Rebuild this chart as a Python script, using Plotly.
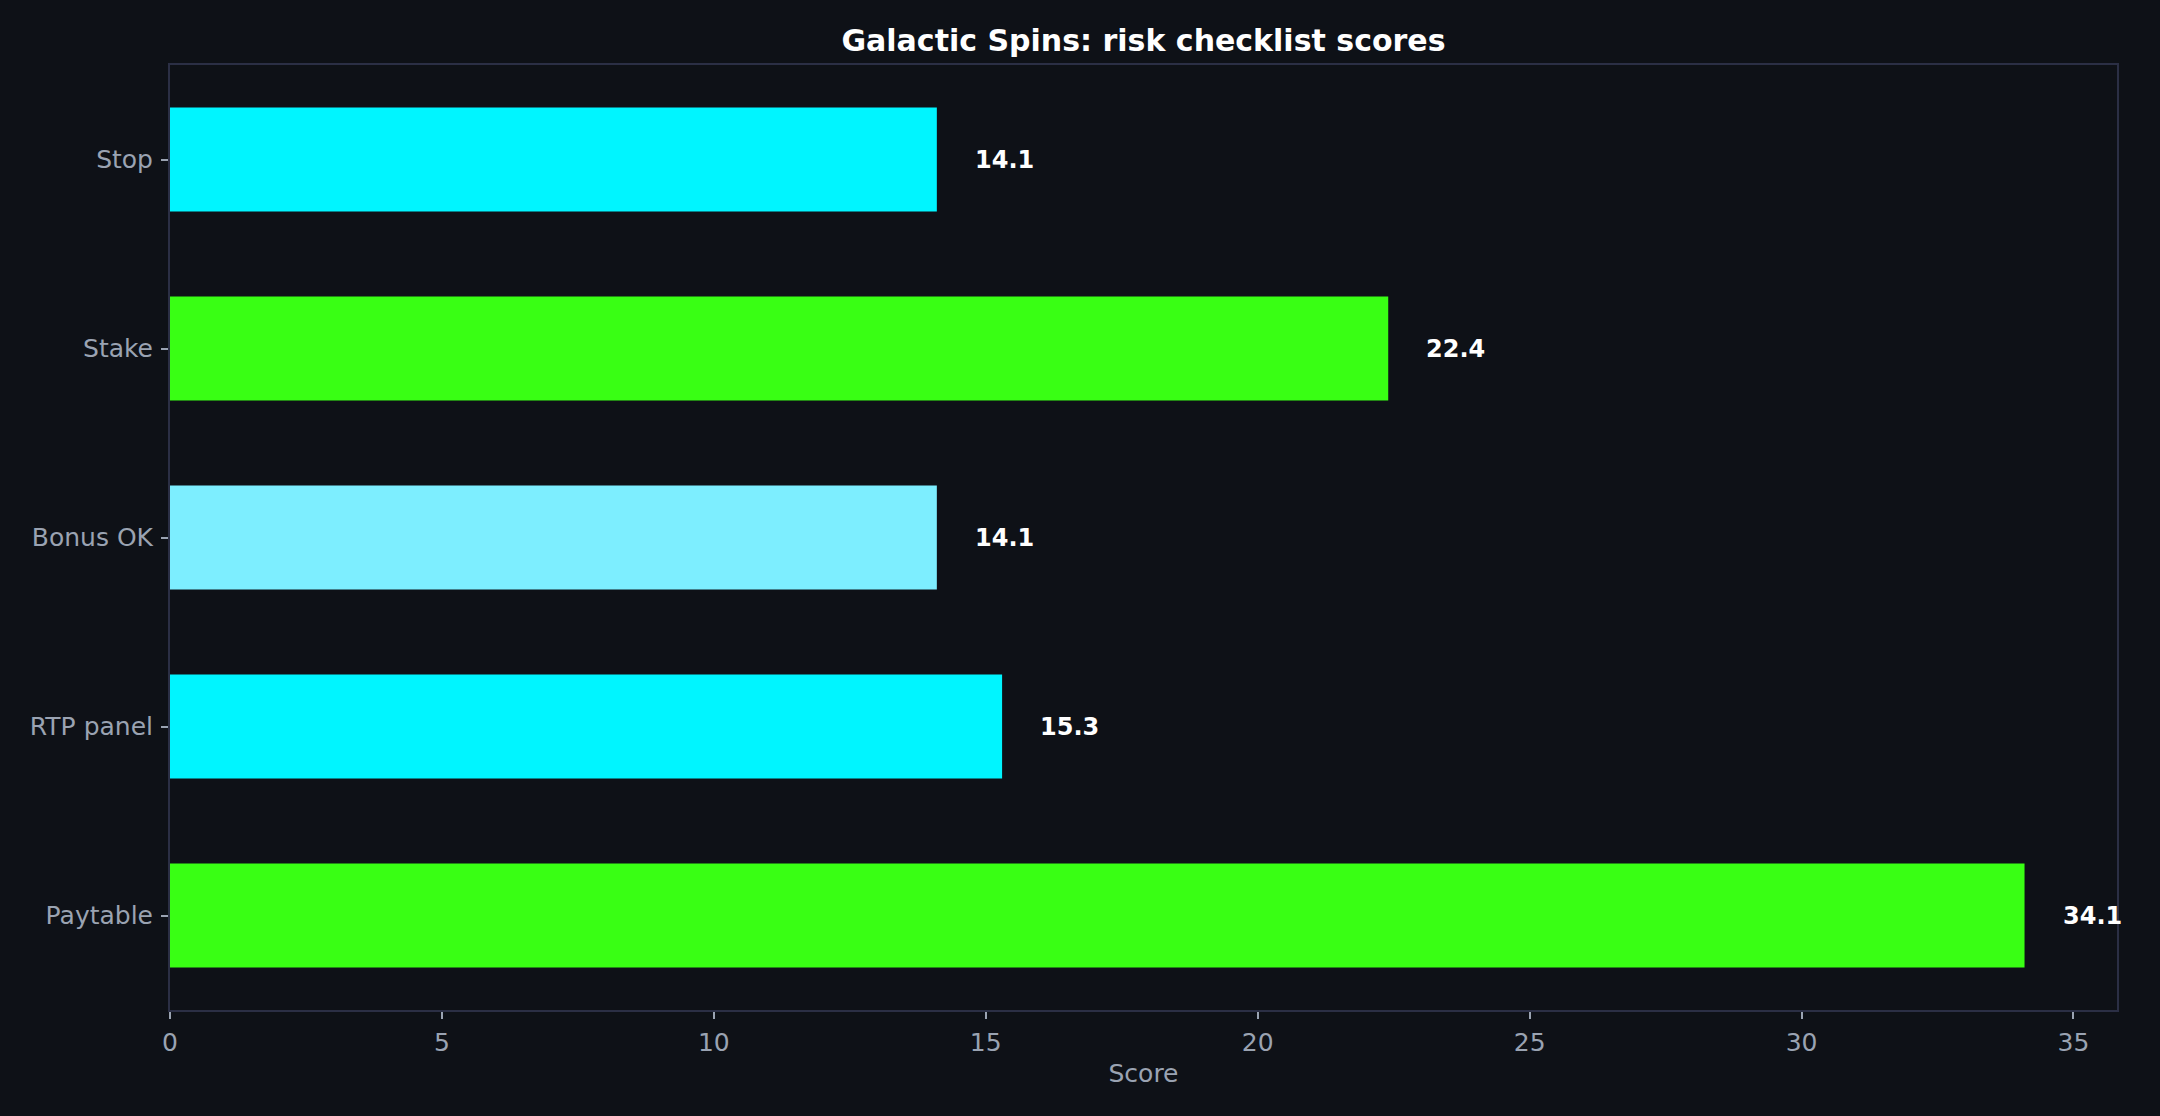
import plotly.graph_objects as go

categories = ["Paytable", "RTP panel", "Bonus OK", "Stake", "Stop"]
scores = [34.1, 15.3, 14.1, 22.4, 14.1]
bar_colors = ["#39ff14", "#00f5ff", "#7deeff", "#39ff14", "#00f5ff"]

bg = "#0e1117"
tick_grey = "#9aa3b2"
frame = "#2b2f45"

fig = go.Figure()
fig.add_trace(go.Bar(
    x=scores,
    y=categories,
    orientation='h',
    width=0.55,
    marker=dict(color=bar_colors, line=dict(width=0)),
    hoverinfo='x+y',
))

for cat, val in zip(categories, scores):
    fig.add_annotation(
        x=val, y=cat, text=f"<b>{val:.1f}</b>",
        xanchor='left', yanchor='middle', xshift=36, showarrow=False,
        font=dict(family="DejaVu Sans", size=24, color="#ffffff"),
    )

fig.update_layout(
    width=2160, height=1116,
    paper_bgcolor=bg, plot_bgcolor=bg,
    margin=dict(l=170, r=43, t=65, b=106),
    showlegend=False,
    title=dict(
        text="<b>Galactic Spins: risk checklist scores</b>",
        x=0.5, xanchor='center', xref='paper', y=1 - 40 / 1116, yref='container', yanchor='middle',
        font=dict(family="DejaVu Sans", size=30, color="#ffffff"),
    ),
    font=dict(family="DejaVu Sans", color=tick_grey),
)

fig.update_xaxes(
    range=[0, 35.8], dtick=5, tick0=0,
    showgrid=False, zeroline=False,
    showline=True, linecolor=frame, linewidth=2, mirror=True,
    ticks='outside', ticklen=7, tickcolor=tick_grey, tickwidth=1.5,
    ticklabelstandoff=2,
    tickfont=dict(size=25, color=tick_grey),
    title=dict(text="Score", font=dict(size=25, color=tick_grey), standoff=8),
)
fig.update_yaxes(
    range=[-0.5, 4.5],
    showgrid=False, zeroline=False,
    showline=True, linecolor=frame, linewidth=2, mirror=True,
    ticks='outside', ticklen=7, tickcolor=tick_grey, tickwidth=1.5,
    ticklabelstandoff=3,
    tickfont=dict(size=25, color=tick_grey),
)

fig.write_html(
    "out.html",
    config={"displayModeBar": False},
    post_script="document.body.style.margin='0';document.body.style.background='#0e1117';",
)
